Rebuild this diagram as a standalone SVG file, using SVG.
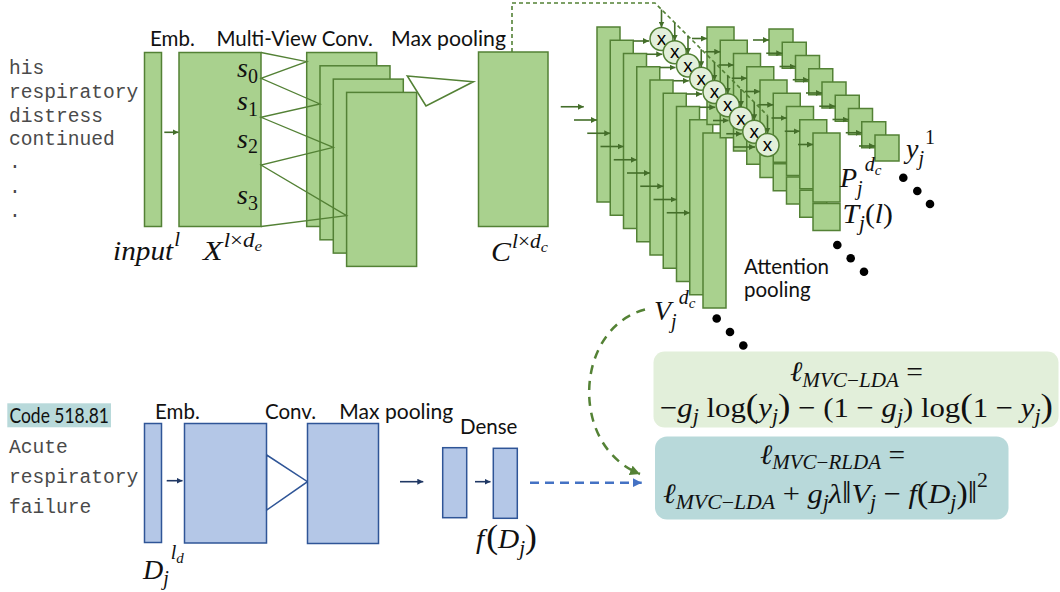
<svg xmlns="http://www.w3.org/2000/svg" width="1060" height="592" viewBox="0 0 1060 592">
<style>
.g{fill:#a9d18e;stroke:#538135;stroke-width:1.5}
.b{fill:#b4c7e7;stroke:#2f5597;stroke-width:1.5}
.lbl{font-family:Lato,"Liberation Sans",sans-serif;font-size:20.5px;fill:#111}
.mono{font-family:"Liberation Mono","Courier New",monospace;font-size:19.6px;fill:#4a4a4a}
.m{font-family:"Liberation Serif","DejaVu Serif",serif;font-style:italic;font-size:28px;fill:#111}
.u{font-style:normal}
.it{font-style:italic}
.sb{font-size:20px}
.ss{font-size:15px}
.bp{font-style:normal;font-size:34px}
.ag{stroke:#446e2a;stroke-width:1.6;fill:none;marker-end:url(#mg)}
.an{stroke:#203864;stroke-width:1.6;fill:none;marker-end:url(#mn)}
.mul{fill:#e2efda;stroke:#538135;stroke-width:1.5}
.mx{font-family:"Liberation Sans",Arial,sans-serif;font-size:19px;fill:#000;text-anchor:middle}
.dot{fill:#000}
</style>
<defs>
<marker id="mg" viewBox="0 0 6 6" refX="6" refY="3" markerWidth="6" markerHeight="6" markerUnits="userSpaceOnUse" orient="auto"><path d="M0,0 L6,3 L0,6 z" fill="#446e2a"/></marker>
<marker id="mn" viewBox="0 0 6 6" refX="6" refY="3" markerWidth="6" markerHeight="6" markerUnits="userSpaceOnUse" orient="auto"><path d="M0,0 L6,3 L0,6 z" fill="#203864"/></marker>
<marker id="mbl" viewBox="0 0 8 8" refX="8" refY="4" markerWidth="9" markerHeight="9" markerUnits="userSpaceOnUse" orient="auto"><path d="M0,0 L8,4 L0,8 z" fill="#4472c4"/></marker>
<marker id="mgd" viewBox="0 0 8 8" refX="8" refY="4" markerWidth="10" markerHeight="10" markerUnits="userSpaceOnUse" orient="auto"><path d="M0,0 L8,4 L0,8 z" fill="#548235"/></marker>
</defs>
<rect width="1060" height="592" fill="#fff"/>

<!-- top input text -->
<g id="input-text" class="mono">
<text x="9" y="74">his</text>
<text x="9" y="98">respiratory</text>
<text x="9" y="121.5">distress</text>
<text x="9" y="145">continued</text>
<text x="9" y="168">.</text>
<text x="9" y="193">.</text>
<text x="9" y="216.5">.</text>
</g>

<g id="top-labels" class="lbl">
<text x="150" y="46">Emb.</text>
<text x="216.5" y="46">Multi-View Conv.</text>
<text x="391" y="46" textLength="115" lengthAdjust="spacingAndGlyphs">Max pooling</text>
</g>

<g id="emb-input"><rect class="g" x="144.5" y="52.5" width="17" height="174"/></g>
<g id="x-matrix"><rect class="g" x="179" y="52.5" width="82" height="174"/>
<text class="m" x="237" y="77">s<tspan class="u sb" dy="5.5">0</tspan></text>
<text class="m" x="237" y="110">s<tspan class="u sb" dy="5.5">1</tspan></text>
<text class="m" x="237" y="147.5">s<tspan class="u sb" dy="5.5">2</tspan></text>
<text class="m" x="237" y="204">s<tspan class="u sb" dy="5.5">3</tspan></text>
</g>
<g id="conv-0"><rect class="g" x="306.7" y="52.5" width="70" height="174"/></g>
<g id="conv-1"><rect class="g" x="320" y="65.8" width="70" height="174"/></g>
<g id="conv-2"><rect class="g" x="333.3" y="79.1" width="70" height="174"/></g>
<g id="conv-3"><rect class="g" x="346.6" y="92.4" width="70" height="174"/></g>
<g id="maxpool-top"><polygon points="407.3,76 473.3,81.7 426,106" fill="#fff" stroke="#538135" stroke-width="1.6"/></g>
<g id="c-matrix"><rect class="g" x="478.5" y="52" width="69.5" height="174.5"/></g>

<g id="top-math">
<text class="m" x="113" y="260" textLength="67" lengthAdjust="spacingAndGlyphs">input<tspan class="sb" dx="1" dy="-14">l</tspan></text>
<text class="m" x="203" y="260" textLength="59" lengthAdjust="spacingAndGlyphs">X<tspan class="sb" dx="1" dy="-13">l<tspan class="u">×</tspan>d</tspan><tspan class="ss" dy="4">e</tspan></text>
<text class="m" x="491" y="261" textLength="57" lengthAdjust="spacingAndGlyphs">C<tspan class="sb" dx="1" dy="-13">l<tspan class="u">×</tspan>d</tspan><tspan class="ss" dy="4">c</tspan></text>
</g>

<!-- V stack -->
<g id="v-0"><rect class="g" x="597" y="27" width="23" height="175"/></g>
<g id="v-1"><rect class="g" x="610.25" y="40.25" width="23" height="175"/></g>
<g id="v-2"><rect class="g" x="623.5" y="53.5" width="23" height="175"/></g>
<g id="v-3"><rect class="g" x="636.75" y="66.75" width="23" height="175"/></g>
<g id="v-4"><rect class="g" x="650" y="80" width="23" height="175"/></g>
<g id="v-5"><rect class="g" x="663.25" y="93.25" width="23" height="175"/></g>
<g id="v-6"><rect class="g" x="676.5" y="106.5" width="23" height="175"/></g>
<g id="v-7"><rect class="g" x="689.75" y="119.75" width="23" height="175"/></g>
<g id="v-8"><rect class="g" x="703" y="133" width="23" height="175"/></g>

<!-- P / T stack -->
<g id="p-0"><rect class="g" x="707" y="27" width="27" height="69"/><rect class="g" x="707" y="97.5" width="27" height="27"/></g>
<g id="p-1"><rect class="g" x="720.25" y="40.25" width="27" height="69"/><rect class="g" x="720.25" y="110.75" width="27" height="27"/></g>
<g id="p-2"><rect class="g" x="733.5" y="53.5" width="27" height="69"/><rect class="g" x="733.5" y="124" width="27" height="27"/></g>
<g id="p-3"><rect class="g" x="746.75" y="66.75" width="27" height="69"/><rect class="g" x="746.75" y="137.25" width="27" height="27"/></g>
<g id="p-4"><rect class="g" x="760" y="80" width="27" height="69"/><rect class="g" x="760" y="150.5" width="27" height="27"/></g>
<g id="p-5"><rect class="g" x="773.25" y="93.25" width="27" height="69"/><rect class="g" x="773.25" y="163.75" width="27" height="27"/></g>
<g id="p-6"><rect class="g" x="786.5" y="106.5" width="27" height="69"/><rect class="g" x="786.5" y="177" width="27" height="27"/></g>
<g id="p-7"><rect class="g" x="799.75" y="119.75" width="27" height="69"/><rect class="g" x="799.75" y="190.25" width="27" height="27"/></g>
<g id="p-8"><rect class="g" x="813" y="133" width="27" height="69"/><rect class="g" x="813" y="203.5" width="27" height="27"/></g>

<!-- y stack -->
<g id="y-0"><rect class="g" x="769" y="29" width="24" height="26"/></g>
<g id="y-1"><rect class="g" x="782.25" y="42.25" width="24" height="26"/></g>
<g id="y-2"><rect class="g" x="795.5" y="55.5" width="24" height="26"/></g>
<g id="y-3"><rect class="g" x="808.75" y="68.75" width="24" height="26"/></g>
<g id="y-4"><rect class="g" x="822" y="82" width="24" height="26"/></g>
<g id="y-5"><rect class="g" x="835.25" y="95.25" width="24" height="26"/></g>
<g id="y-6"><rect class="g" x="848.5" y="108.5" width="24" height="26"/></g>
<g id="y-7"><rect class="g" x="861.75" y="121.75" width="24" height="26"/></g>
<g id="y-8"><rect class="g" x="875" y="135" width="24" height="26"/></g>

<!-- multiply circles -->
<g id="mul-0"><circle class="mul" cx="661.5" cy="39" r="11.5"/><text class="mx" x="661.5" y="45">x</text></g>
<g id="mul-1"><circle class="mul" cx="674.75" cy="52.25" r="11.5"/><text class="mx" x="674.75" y="58.25">x</text></g>
<g id="mul-2"><circle class="mul" cx="688" cy="65.5" r="11.5"/><text class="mx" x="688" y="71.5">x</text></g>
<g id="mul-3"><circle class="mul" cx="701.25" cy="78.75" r="11.5"/><text class="mx" x="701.25" y="84.75">x</text></g>
<g id="mul-4"><circle class="mul" cx="714.5" cy="92" r="11.5"/><text class="mx" x="714.5" y="98">x</text></g>
<g id="mul-5"><circle class="mul" cx="727.75" cy="105.25" r="11.5"/><text class="mx" x="727.75" y="111.25">x</text></g>
<g id="mul-6"><circle class="mul" cx="741" cy="118.5" r="11.5"/><text class="mx" x="741" y="124.5">x</text></g>
<g id="mul-7"><circle class="mul" cx="754.25" cy="131.75" r="11.5"/><text class="mx" x="754.25" y="137.75">x</text></g>
<g id="mul-8"><circle class="mul" cx="767.5" cy="145" r="11.5"/><text class="mx" x="767.5" y="151">x</text></g>

<g id="stack-labels">
<text class="m" x="906" y="158">y<tspan class="sb" dy="7">j</tspan><tspan class="u sb" dx="1" dy="-21">1</tspan></text>
<text class="m" x="840" y="187">P<tspan class="sb" dy="8">j</tspan><tspan class="sb" dx="2" dy="-24">d</tspan><tspan class="ss" dy="4">c</tspan></text>
<text class="m" x="842.5" y="223" textLength="50.5" lengthAdjust="spacingAndGlyphs">T<tspan class="sb" dy="7">j</tspan><tspan dy="-7"><tspan class="u">(</tspan>l<tspan class="u">)</tspan></tspan></text>
<text class="m" x="654" y="320">V<tspan class="sb" dy="8">j</tspan><tspan class="sb" dx="2" dy="-24">d</tspan><tspan class="ss" dy="4">c</tspan></text>
<text class="lbl" x="744" y="274">Attention</text>
<text class="lbl" x="744" y="297">pooling</text>
<circle class="dot" cx="903.3" cy="177.7" r="4.3"/>
<circle class="dot" cx="917.3" cy="191" r="4.3"/>
<circle class="dot" cx="930" cy="204" r="4.3"/>
<circle class="dot" cx="837.3" cy="245" r="4.3"/>
<circle class="dot" cx="850.7" cy="258.3" r="4.3"/>
<circle class="dot" cx="864" cy="271.7" r="4.3"/>
<circle class="dot" cx="716.7" cy="318.5" r="4.3"/>
<circle class="dot" cx="730" cy="332" r="4.3"/>
<circle class="dot" cx="743.3" cy="345.5" r="4.3"/>
</g>

<!-- bottom -->
<g id="code-label"><rect x="7.3" y="403.3" width="103.7" height="24" fill="#b8d9da"/><text class="lbl" x="9.5" y="423" textLength="99.5" lengthAdjust="spacingAndGlyphs">Code 518.81</text></g>
<g id="desc-text" class="mono">
<text x="9" y="452.7">Acute</text>
<text x="9" y="482.7">respiratory</text>
<text x="9" y="513.3">failure</text>
</g>
<g id="bottom-labels" class="lbl">
<text x="155" y="419">Emb.</text>
<text x="265" y="419">Conv.</text>
<text x="339.3" y="419" textLength="114" lengthAdjust="spacingAndGlyphs">Max pooling</text>
<text x="460" y="434">Dense</text>
</g>
<g id="emb-desc"><rect class="b" x="144.5" y="423.5" width="17" height="119"/></g>
<g id="emb-matrix"><rect class="b" x="184.5" y="423.5" width="82" height="119.5"/></g>
<g id="conv-bottom"><polygon points="266.7,455 307.5,481.7 266.7,510" fill="#fff" stroke="#2f5597" stroke-width="1.5"/></g>
<g id="maxpool-bottom"><rect class="b" x="307.5" y="423.5" width="71" height="120"/></g>
<g id="dense-1"><rect class="b" x="442.7" y="447.7" width="24" height="70"/></g>
<g id="dense-2"><rect class="b" x="493.3" y="448.3" width="24" height="70"/></g>
<g id="bottom-math">
<text class="m" x="143" y="579" font-size="30">D<tspan class="sb" dy="6">j</tspan><tspan class="sb" dx="2" dy="-26">l</tspan><tspan class="ss" dy="4">d</tspan></text>
<text class="m" x="476" y="548" textLength="61" lengthAdjust="spacingAndGlyphs">f<tspan class="bp" dx="2">(</tspan>D<tspan class="sb" dy="7">j</tspan><tspan class="bp" dy="-7">)</tspan></text>
</g>

<!-- loss boxes -->
<g id="loss-lda"><rect x="653.5" y="351.5" width="405" height="76" rx="11" fill="#e2efda"/>
<text class="m" x="790" y="381" textLength="133" lengthAdjust="spacingAndGlyphs">ℓ<tspan class="sb" dy="6">MVC<tspan class="u">−</tspan>LDA</tspan><tspan class="u" dy="-6"> =</tspan></text>
<text class="m u" x="660" y="417" textLength="393" lengthAdjust="spacingAndGlyphs">−<tspan class="it">g</tspan><tspan class="sb it" dy="6">j</tspan><tspan dy="-6"> log</tspan><tspan class="bp">(</tspan><tspan class="it">y</tspan><tspan class="sb it" dy="6">j</tspan><tspan class="bp" dy="-6">)</tspan>  − (1 − <tspan class="it">g</tspan><tspan class="sb it" dy="6">j</tspan><tspan dy="-6">) log</tspan><tspan class="bp">(</tspan>1 − <tspan class="it">y</tspan><tspan class="sb it" dy="6">j</tspan><tspan class="bp" dy="-6">)</tspan></text>
</g>
<g id="loss-rlda"><rect x="655" y="436.5" width="353.5" height="83" rx="12" fill="#b8d9da"/>
<text class="m" x="760" y="464" textLength="145" lengthAdjust="spacingAndGlyphs">ℓ<tspan class="sb" dy="5">MVC<tspan class="u">−</tspan>RLDA</tspan><tspan class="u" dy="-5"> =</tspan></text>
<text class="m" x="663" y="503" textLength="325" lengthAdjust="spacingAndGlyphs">ℓ<tspan class="sb" dy="6">MVC<tspan class="u">−</tspan>LDA</tspan><tspan class="u" dy="-6"> + </tspan>g<tspan class="sb" dy="6">j</tspan><tspan dy="-6">λ</tspan><tspan class="u" font-size="31px">‖</tspan>V<tspan class="sb" dy="6">j</tspan><tspan class="u" dy="-6"> − </tspan>f<tspan class="u" font-size="31px">(</tspan>D<tspan class="sb" dy="6">j</tspan><tspan class="u" font-size="31px" dy="-6">)‖</tspan><tspan class="u sb" dy="-16">2</tspan></text>
</g>

<!-- connectors -->
<g id="connectors">
<line class="ag" x1="164.3" y1="132.3" x2="178.5" y2="132.3"/>
<polyline points="261,52.5 306.7,61.7 261,78.3 320,104 261,117.3 333.3,147.3 261,165 346.6,215.7 261,226.5" fill="none" stroke="#538135" stroke-width="1.3"/>
<path d="M512,52 V3 H655 L767.5,115.5" fill="none" stroke="#538135" stroke-width="1.6" stroke-dasharray="4 3"/>
<!-- into V stack -->
<line class="ag" x1="560.75" y1="106.75" x2="583.75" y2="106.75"/>
<line class="ag" x1="574" y1="120" x2="597" y2="120"/>
<line class="ag" x1="587.25" y1="133.25" x2="610.25" y2="133.25"/>
<line class="ag" x1="600.5" y1="146.5" x2="623.5" y2="146.5"/>
<line class="ag" x1="613.75" y1="159.75" x2="636.75" y2="159.75"/>
<line class="ag" x1="627" y1="173" x2="650" y2="173"/>
<line class="ag" x1="640.25" y1="186.25" x2="663.25" y2="186.25"/>
<line class="ag" x1="653.5" y1="199.5" x2="676.5" y2="199.5"/>
<line class="ag" x1="666.75" y1="212.75" x2="689.75" y2="212.75"/>
<!-- into circles from left -->
<line class="ag" x1="633.5" y1="41" x2="649" y2="41"/>
<line class="ag" x1="646.75" y1="54.25" x2="662.25" y2="54.25"/>
<line class="ag" x1="660" y1="67.5" x2="675.5" y2="67.5"/>
<line class="ag" x1="673.25" y1="80.75" x2="688.75" y2="80.75"/>
<line class="ag" x1="686.5" y1="94" x2="702" y2="94"/>
<line class="ag" x1="699.75" y1="107.25" x2="715.25" y2="107.25"/>
<line class="ag" x1="713" y1="120.5" x2="728.5" y2="120.5"/>
<line class="ag" x1="726.25" y1="133.75" x2="741.75" y2="133.75"/>
<line class="ag" x1="733" y1="147" x2="755" y2="147"/>
<!-- into circles from top -->
<line class="ag" x1="661.5" y1="9.5" x2="661.5" y2="27.5"/>
<line class="ag" x1="674.75" y1="22.75" x2="674.75" y2="40.75"/>
<line class="ag" x1="688" y1="36" x2="688" y2="54"/>
<line class="ag" x1="701.25" y1="49.25" x2="701.25" y2="67.25"/>
<line class="ag" x1="714.5" y1="62.5" x2="714.5" y2="80.5"/>
<line class="ag" x1="727.75" y1="75.75" x2="727.75" y2="93.75"/>
<line class="ag" x1="741" y1="89" x2="741" y2="107"/>
<line class="ag" x1="754.25" y1="102.25" x2="754.25" y2="120.25"/>
<line class="ag" x1="767.5" y1="115.5" x2="767.5" y2="133.5"/>
<!-- into P stack -->
<line class="ag" x1="692" y1="38.5" x2="707" y2="38.5"/>
<line class="ag" x1="705.25" y1="51.75" x2="720.25" y2="51.75"/>
<line class="ag" x1="718.5" y1="65" x2="733.5" y2="65"/>
<line class="ag" x1="731.75" y1="78.25" x2="746.75" y2="78.25"/>
<line class="ag" x1="745" y1="91.5" x2="760" y2="91.5"/>
<line class="ag" x1="758.25" y1="104.75" x2="773.25" y2="104.75"/>
<line class="ag" x1="771.5" y1="118" x2="786.5" y2="118"/>
<line class="ag" x1="784.75" y1="131.25" x2="799.75" y2="131.25"/>
<line class="ag" x1="798" y1="144.5" x2="813" y2="144.5"/>
<!-- into y stack -->
<line class="ag" x1="753" y1="40" x2="769" y2="40"/>
<line class="ag" x1="766.25" y1="53.25" x2="782.25" y2="53.25"/>
<line class="ag" x1="779.5" y1="66.5" x2="795.5" y2="66.5"/>
<line class="ag" x1="792.75" y1="79.75" x2="808.75" y2="79.75"/>
<line class="ag" x1="806" y1="93" x2="822" y2="93"/>
<line class="ag" x1="819.25" y1="106.25" x2="835.25" y2="106.25"/>
<line class="ag" x1="832.5" y1="119.5" x2="848.5" y2="119.5"/>
<line class="ag" x1="845.75" y1="132.75" x2="861.75" y2="132.75"/>
<line class="ag" x1="859" y1="146" x2="875" y2="146"/>
<!-- bottom -->
<line class="an" x1="166.7" y1="480.7" x2="182.5" y2="480.7"/>
<line class="an" x1="400" y1="481.7" x2="423.3" y2="481.7"/>
<line class="an" x1="475" y1="481.7" x2="490.5" y2="481.7"/>
<line x1="530" y1="482.7" x2="641.7" y2="482.7" stroke="#4472c4" stroke-width="2.5" stroke-dasharray="9 6" marker-end="url(#mbl)"/>
<path d="M645,309.5 C575,328 568,445 640,474" fill="none" stroke="#548235" stroke-width="2.5" stroke-dasharray="9 7" marker-end="url(#mgd)"/>
</g>
</svg>
